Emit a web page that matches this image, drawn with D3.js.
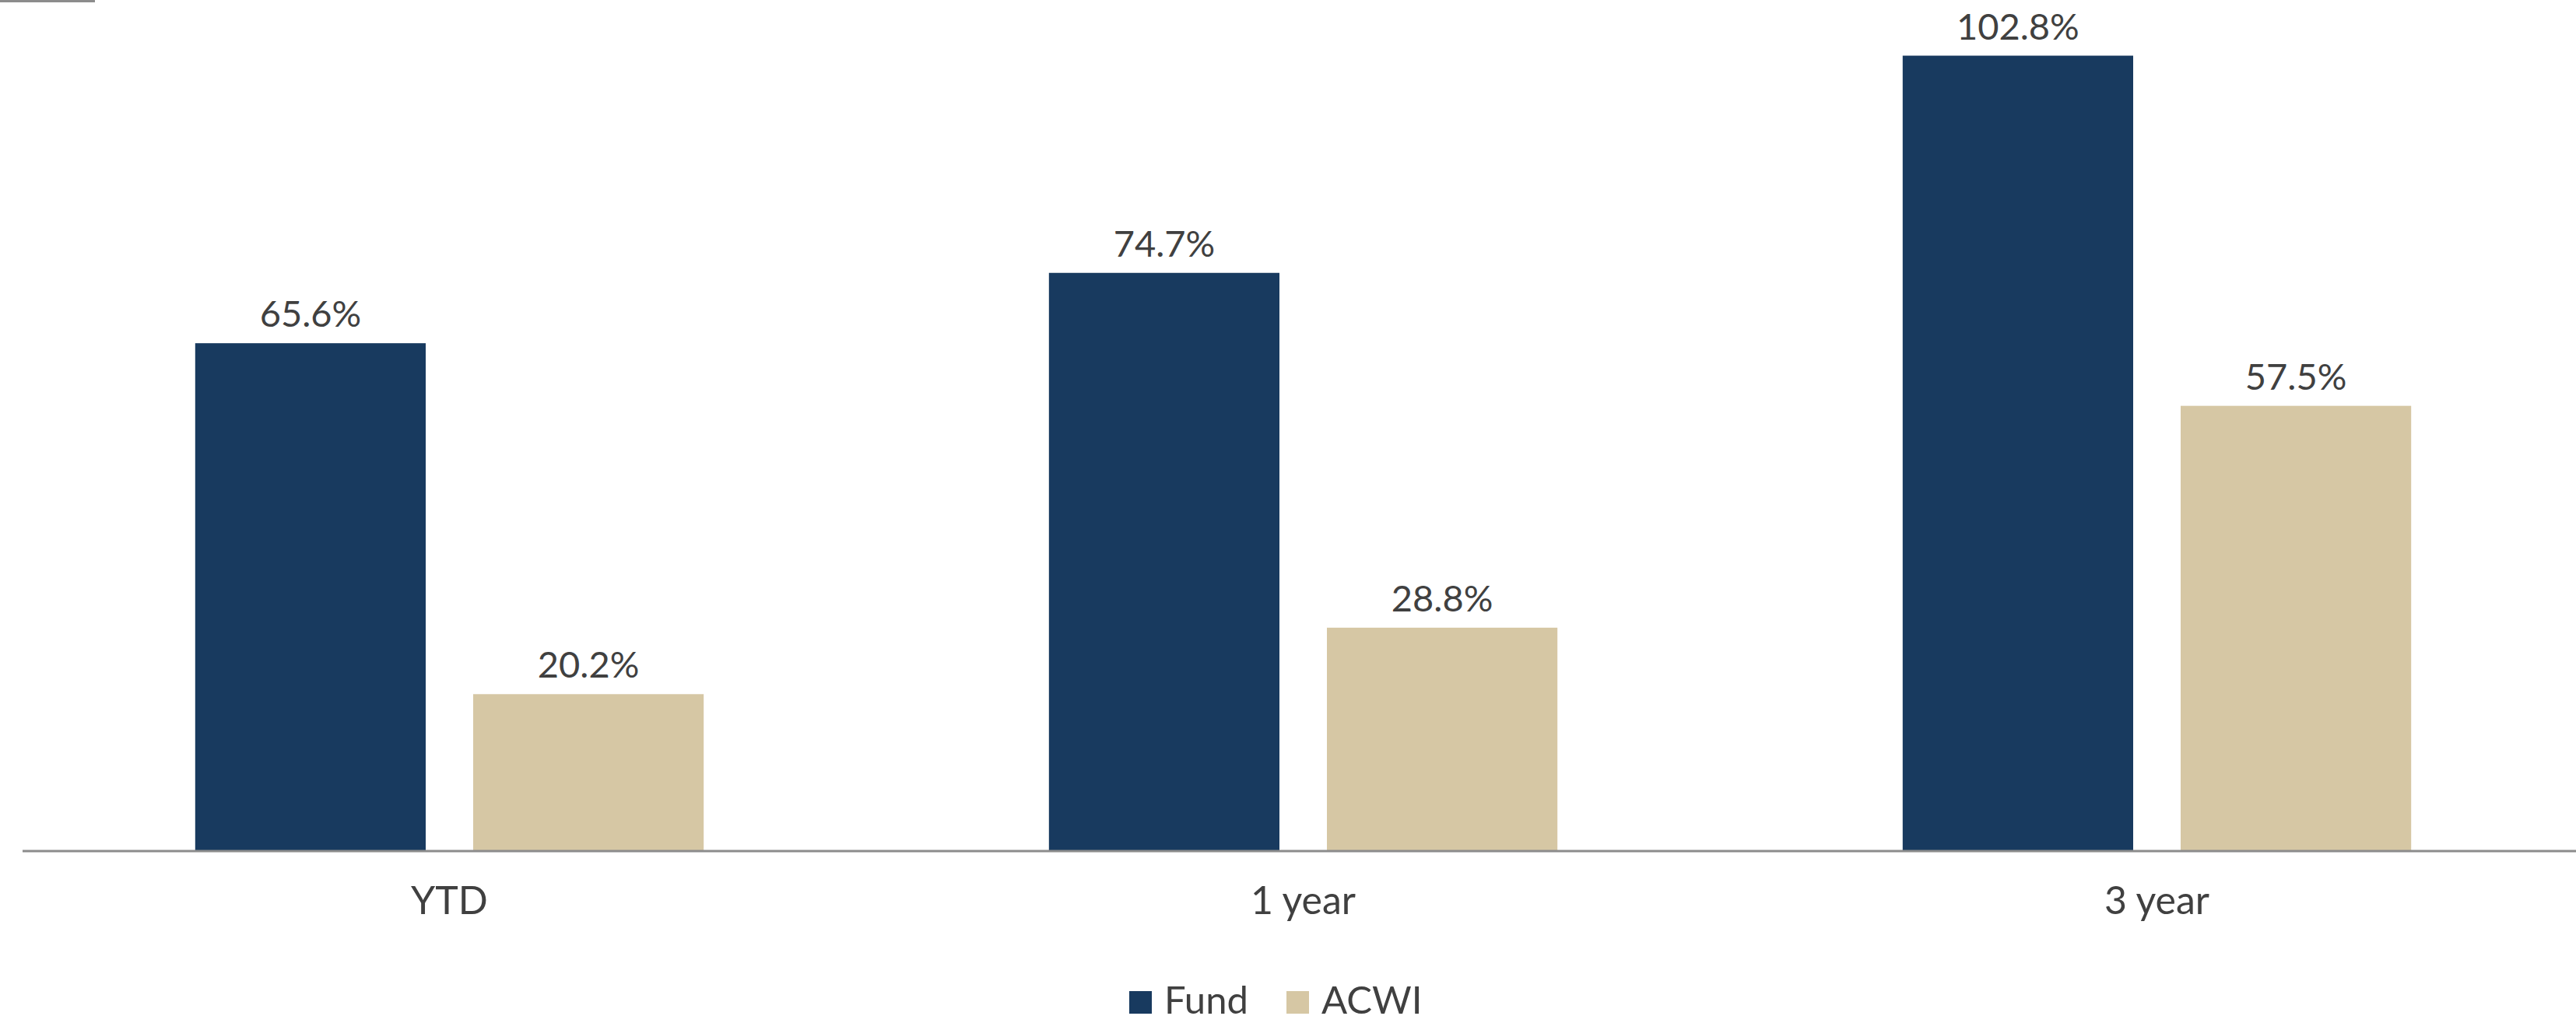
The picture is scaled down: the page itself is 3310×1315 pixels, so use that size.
<!DOCTYPE html>
<html>
<head>
<meta charset="utf-8">
<style>
  html, body { margin: 0; padding: 0; background: #fff; }
  svg { display: block; font-family: Lato, "Open Sans", sans-serif; }
</style>
</head>
<body>
<div id="chart"></div>
<script src="https://d3js.org/d3.v7.min.js"></script>
<script>
const categories = ["YTD", "1 year", "3 year"];
const seriesNames = ["Fund", "ACWI"];
const fundValues = [65.6, 74.7, 102.8];
const acwiValues = [20.2, 28.8, 57.5];
const colors = ["#183a5f", "#d6c7a4"];

const width = 3310;
const height = 1315;
const baseY = 1093;

const svg = d3.select("#chart").append("svg")
    .attr("width", width)
    .attr("height", height);

const x = d3.scaleBand()
    .domain(categories)
    .range([29, 29 + 3 * 1097])
    .paddingInner(0)
    .paddingOuter(0);

const y = d3.scaleLinear()
    .domain([0, 110])
    .range([baseY, 0]);

const barW = x.bandwidth() * 0.27;
const gap = 61;

const rows = categories.map((c, i) => ({
  cat: c,
  vals: [fundValues[i], acwiValues[i]]
}));

// short line in the top left corner
svg.append("line")
    .attr("x1", 0).attr("x2", 122)
    .attr("y1", 1.5).attr("y2", 1.5)
    .attr("stroke", "#8c8c8c")
    .attr("stroke-width", 3);

const group = svg.append("g")
    .selectAll("g")
    .data(rows)
    .join("g");

seriesNames.forEach((name, s) => {
  const bx = d => x(d.cat) + x.bandwidth() / 2 + (s === 0 ? -gap / 2 - barW : gap / 2);

  group.append("rect")
      .attr("x", bx)
      .attr("y", d => y(d.vals[s]))
      .attr("width", barW)
      .attr("height", d => baseY - y(d.vals[s]))
      .attr("fill", colors[s]);

  group.append("text")
      .attr("x", d => bx(d) + barW / 2)
      .attr("y", d => y(d.vals[s]) - 21)
      .attr("text-anchor", "middle")
      .attr("font-size", 47)
      .attr("fill", "#404040")
      .text(d => d.vals[s].toFixed(1) + "%");
});

// category axis
svg.append("line")
    .attr("x1", 29).attr("x2", width)
    .attr("y1", baseY + 1).attr("y2", baseY + 1)
    .attr("stroke", "#8c8c8c")
    .attr("stroke-width", 3);

svg.append("g")
    .selectAll("text")
    .data(categories)
    .join("text")
    .attr("x", d => x(d) + x.bandwidth() / 2)
    .attr("y", 1175)
    .attr("text-anchor", "middle")
    .attr("font-size", 50)
    .attr("fill", "#404040")
    .text(d => d);

// legend
const legendX = [1451, 1653];
const legend = svg.append("g")
    .selectAll("g")
    .data(seriesNames)
    .join("g")
    .attr("transform", (d, i) => `translate(${legendX[i]},1274)`);

legend.append("rect")
    .attr("width", 29)
    .attr("height", 29)
    .attr("fill", (d, i) => colors[i]);

legend.append("text")
    .attr("x", 45)
    .attr("y", 29)
    .attr("font-size", 49)
    .attr("fill", "#404040")
    .text(d => d);
</script>
</body>
</html>
